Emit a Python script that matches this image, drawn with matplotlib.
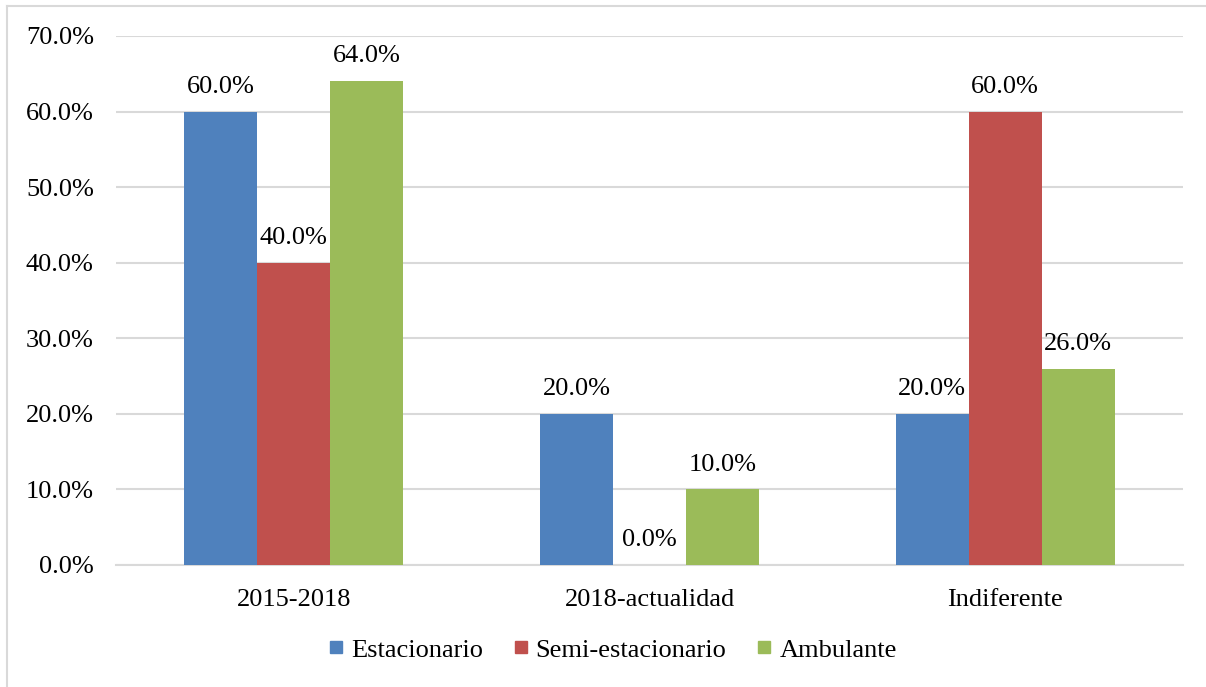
#!/usr/bin/env python3
"""Grouped bar chart: periodo de actividad por tipo de comercio."""

import numpy as np
import matplotlib
matplotlib.use("Agg")
import matplotlib.pyplot as plt
from matplotlib.lines import Line2D

CATEGORIES = ["2015-2018", "2018-actualidad", "Indiferente"]
SERIES = ["Estacionario", "Semi-estacionario", "Ambulante"]
ESTACIONARIO = [60.0, 20.0, 20.0]
SEMI_ESTACIONARIO = [40.0, 0.0, 60.0]
AMBULANTE = [64.0, 10.0, 26.0]
YTICKS = [0, 10, 20, 30, 40, 50, 60, 70]

COLORS = ["#4F81BD", "#C0504D", "#9BBB59"]
GRID = "#D9D9D9"
FONTSIZE = 19
BAR_W = 0.205

plt.rcParams["font.family"] = ["Liberation Serif", "DejaVu Serif"]

fig = plt.figure(figsize=(12.06, 6.87), dpi=100)
ax = fig.add_axes([0.0962, 0.1776, 0.8848, 0.77])

x = np.arange(len(CATEGORIES))
values = [ESTACIONARIO, SEMI_ESTACIONARIO, AMBULANTE]
for i, (name, vals) in enumerate(zip(SERIES, values)):
    pos = x + (i - 1) * BAR_W
    ax.bar(pos, vals, BAR_W, color=COLORS[i], label=name, zorder=3)
    for px, v in zip(pos, vals):
        ax.annotate("%.1f%%" % v, (px, v), xytext=(0, 10),
                    textcoords="offset points", ha="center", va="bottom",
                    fontsize=FONTSIZE)

ax.set_xlim(-0.5, len(CATEGORIES) - 0.5)
ax.set_ylim(0, 70)
ax.set_yticks(YTICKS)
ax.set_yticklabels(["%.1f%%" % t for t in YTICKS])
ax.set_xticks(x)
ax.set_xticklabels(CATEGORIES)
ax.tick_params(axis="y", length=0, pad=16, labelsize=FONTSIZE)
ax.tick_params(axis="x", length=0, pad=17, labelsize=FONTSIZE)
ax.yaxis.grid(True, color=GRID, linewidth=1.5, zorder=0)
for s in ["top", "right", "left"]:
    ax.spines[s].set_visible(False)
ax.spines["bottom"].set_color(GRID)
ax.spines["bottom"].set_linewidth(1.5)

handles = [Line2D([], [], marker="s", linestyle="none", markersize=8.5,
                  color=c) for c in COLORS]
fig.legend(handles, SERIES, loc="center", bbox_to_anchor=(0.508, 0.054),
           ncol=3, frameon=False, fontsize=FONTSIZE, handlelength=0.55,
           handletextpad=0.3, columnspacing=1.15)

# chart border (only top and left visible in the source image)
fig.add_artist(Line2D([0.0058, 0.0058], [0, 0.9913], color=GRID, lw=1.5,
                      transform=fig.transFigure))
fig.add_artist(Line2D([0.0058, 1], [0.9913, 0.9913], color=GRID, lw=1.5,
                      transform=fig.transFigure))

fig.savefig("out.png", dpi=100)
